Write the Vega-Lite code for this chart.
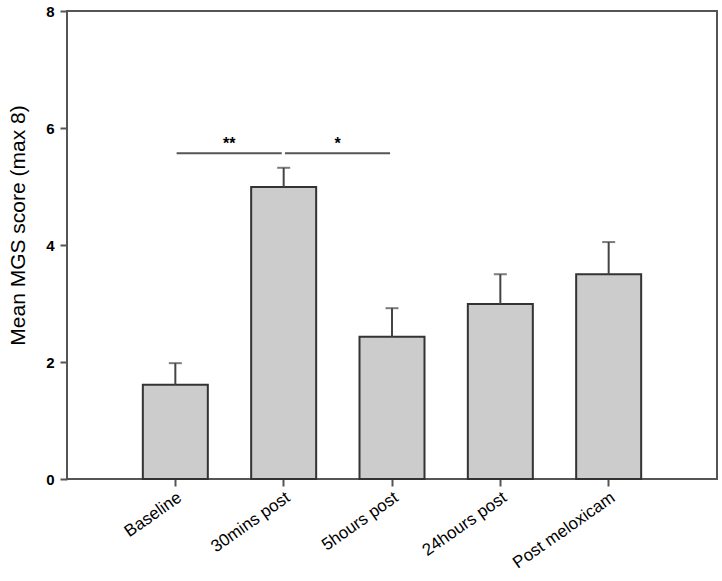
{
  "$schema": "https://vega.github.io/schema/vega-lite/v6.json",
  "width": 650,
  "height": 468,
  "autosize": {"type": "none"},
  "padding": {"left": 67, "top": 11, "right": 5, "bottom": 102},
  "config": {
    "view": {"stroke": "#555555", "strokeWidth": 2},
    "font": "Liberation Sans"
  },
  "datasets": {
    "bars": [
      {"group": "Baseline", "mean": 1.61, "upper": 1.98},
      {"group": "30mins post", "mean": 4.99, "upper": 5.32},
      {"group": "5hours post", "mean": 2.43, "upper": 2.92},
      {"group": "24hours post", "mean": 2.99, "upper": 3.5},
      {"group": "Post meloxicam", "mean": 3.5, "upper": 4.05}
    ],
    "sig": [
      {"from": "Baseline", "to": "30mins post", "y": 5.57, "ty": 5.72, "label": "**"},
      {"from": "30mins post", "to": "5hours post", "y": 5.57, "ty": 5.72, "label": "*"}
    ]
  },
  "layer": [
    {
      "data": {"name": "bars"},
      "mark": {"type": "bar", "fill": "#cccccc", "stroke": "#333333", "strokeWidth": 2},
      "encoding": {
        "x": {
          "field": "group", "type": "nominal", "sort": null,
          "scale": {"paddingInner": 0.4, "paddingOuter": 0.7},
          "axis": {
            "title": null, "domain": false, "labelAngle": -35,
            "labelFontSize": 17, "labelColor": "#000000", "labelPadding": 3,
            "tickColor": "#555555", "tickSize": 7, "tickWidth": 2
          }
        },
        "y": {
          "field": "mean", "type": "quantitative",
          "scale": {"domain": [0, 8], "nice": false},
          "axis": {
            "values": [0, 2, 4, 6, 8], "format": "d", "grid": false, "domain": false,
            "labelFontSize": 15, "labelFontWeight": "bold", "labelColor": "#000000",
            "labelPadding": 6, "tickColor": "#555555", "tickSize": 7, "tickWidth": 2,
            "title": "Mean MGS score (max 8)", "titleFontSize": 21, "titleFontWeight": "normal",
            "titleColor": "#000000", "titleX": -39, "titleY": 214, "titleAlign": "center", "titleBaseline": "bottom", "titleAngle": -90
          }
        }
      }
    },
    {
      "data": {"name": "bars"},
      "mark": {"type": "rule", "color": "#444444", "strokeWidth": 2},
      "encoding": {
        "x": {"field": "group", "type": "nominal", "sort": null},
        "y": {"field": "mean", "type": "quantitative"},
        "y2": {"field": "upper"}
      }
    },
    {
      "data": {"name": "bars"},
      "mark": {"type": "tick", "color": "#444444", "size": 13, "thickness": 2, "orient": "horizontal"},
      "encoding": {
        "x": {"field": "group", "type": "nominal", "sort": null},
        "y": {"field": "upper", "type": "quantitative"}
      }
    },
    {
      "data": {"name": "sig"},
      "mark": {"type": "rule", "color": "#555555", "strokeWidth": 2},
      "encoding": {
        "x": {"field": "from", "type": "nominal", "sort": null, "bandPosition": 0.52},
        "x2": {"field": "to", "bandPosition": 0.47},
        "y": {"field": "y", "type": "quantitative"}
      }
    },
    {
      "data": {"name": "sig"},
      "mark": {"type": "text", "fontSize": 16, "fontWeight": "bold", "baseline": "middle", "color": "#000000"},
      "encoding": {
        "x": {"field": "from", "type": "nominal", "sort": null, "bandPosition": 1.33},
        "y": {"field": "ty", "type": "quantitative"},
        "text": {"field": "label"}
      }
    }
  ]
}
